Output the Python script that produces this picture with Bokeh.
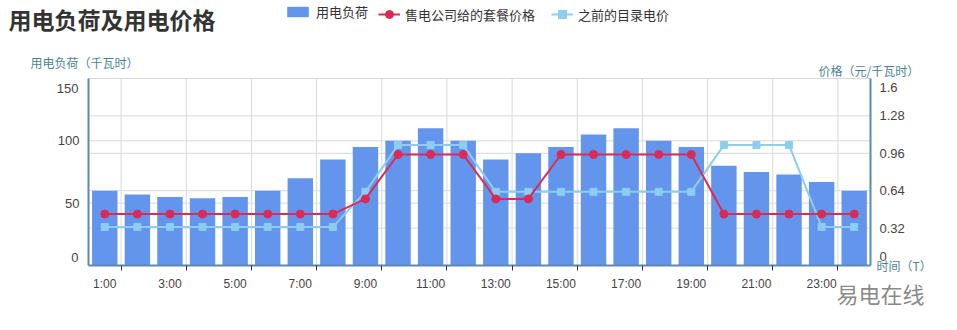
from bokeh.plotting import figure
from bokeh.models import (Range1d, LinearAxis, FixedTicker, Label, Legend, LegendItem,
                          CustomJSTickFormatter, NumeralTickFormatter, ColumnDataSource)
from bokeh.embed import file_html
from bokeh.resources import INLINE

# ---- data -------------------------------------------------------------
hours = ["1:00", "2:00", "3:00", "4:00", "5:00", "6:00", "7:00", "8:00",
         "9:00", "10:00", "11:00", "12:00", "13:00", "14:00", "15:00", "16:00",
         "17:00", "18:00", "19:00", "20:00", "21:00", "22:00", "23:00", "24:00"]

# hourly load, kWh
load_kwh = [60, 57, 55, 54, 55, 60, 70, 85, 95, 100, 110, 100,
            85, 90, 95, 105, 110, 100, 95, 80, 75, 73, 67, 60]

# package price offered by the retailer, yuan/kWh
package_price = [0.44, 0.44, 0.44, 0.44, 0.44, 0.44, 0.44, 0.44,
                 0.57, 0.95, 0.95, 0.95, 0.57, 0.57, 0.95, 0.95,
                 0.95, 0.95, 0.95, 0.44, 0.44, 0.44, 0.44, 0.44]

# former catalogue tariff, yuan/kWh
catalog_price = [0.33, 0.33, 0.33, 0.33, 0.33, 0.33, 0.33, 0.33,
                 0.63, 1.03, 1.03, 1.03, 0.63, 0.63, 0.63, 0.63,
                 0.63, 0.63, 0.63, 1.03, 1.03, 1.03, 0.33, 0.33]

load_ticks = [0, 50, 100, 150]
price_ticks = [0, 0.32, 0.64, 0.96, 1.28, 1.6]

# ---- page geometry (pixels) ------------------------------------------------
W, H = 957, 330
PLOT_L, PLOT_R, PLOT_T, PLOT_B = 88, 870, 78, 265

# ---- styling ------------------------------------------------------------
CJK = "Noto Sans CJK SC"
NUM = "Liberation Sans"
AXIS = "#5b89b4"
GRID = "#d9d9d9"
NAME = "#4b8595"
BAR = "#6495ed"
RED = "#d92b55"
SKY = "#8ccdf0"
TXT = "#444444"

n = len(hours)
xs = [i + 0.5 for i in range(n)]
src = ColumnDataSource(dict(x=xs, hour=hours, load=load_kwh,
                            pkg=package_price, cat=catalog_price))


def padded_range(lo, hi, lo_px, hi_px, span_px):
    """Range whose [lo, hi] part occupies span_px pixels, leaving lo_px/hi_px
    pixels of room on either side for titles and axes."""
    per_px = (hi - lo) / span_px
    return Range1d(lo - lo_px * per_px, hi + hi_px * per_px)


x_rng = padded_range(0, n, PLOT_L, W - PLOT_R, PLOT_R - PLOT_L)
y_rng = padded_range(load_ticks[0], load_ticks[-1], H - PLOT_B, PLOT_T, PLOT_B - PLOT_T)
p_rng = padded_range(price_ticks[0], price_ticks[-1], H - PLOT_B, PLOT_T, PLOT_B - PLOT_T)

p = figure(width=W, height=H, output_backend="svg", toolbar_location=None,
           title=None, x_range=x_rng, y_range=y_rng,
           min_border_left=0, min_border_right=0, min_border_top=0,
           min_border_bottom=0)
p.extra_y_ranges = {"price": p_rng}
p.outline_line_color = None
p.background_fill_color = "white"
p.border_fill_color = "white"
p.xgrid.visible = False
p.ygrid.visible = False

# ---- grid lines -----------------------------------------------------------
bounds = [i for i in range(1, n, 2)]
p.segment(x0=bounds, x1=bounds, y0=[load_ticks[0]] * len(bounds),
          y1=[load_ticks[-1]] * len(bounds), line_color=GRID, line_width=1)
p.segment(x0=[0] * 3, x1=[n] * 3, y0=load_ticks[1:], y1=load_ticks[1:],
          line_color=GRID, line_width=1)
p.segment(x0=[0] * 5, x1=[n] * 5, y0=price_ticks[1:], y1=price_ticks[1:],
          y_range_name="price", line_color=GRID, line_width=1)

# ---- axes -------------------------------------------------------------------
def style_axis(ax, size):
    ax.axis_line_color = AXIS
    ax.axis_line_width = 2
    ax.major_tick_out = 0
    ax.major_tick_in = 0
    ax.minor_tick_out = 0
    ax.minor_tick_in = 0
    ax.major_label_text_font = NUM
    ax.major_label_text_font_size = size
    ax.major_label_text_color = TXT


# x axis: labels centred on categories, tick marks on boundaries
xa = p.xaxis[0]
style_axis(xa, "12px")
xa.fixed_location = load_ticks[0]
xa.bounds = (0, n)
xa.ticker = FixedTicker(ticks=[xs[i] for i in range(0, n, 2)], minor_ticks=bounds)
xa.formatter = CustomJSTickFormatter(args=dict(labels=hours),
                                     code="return labels[Math.floor(tick)];")
xa.minor_tick_out = 5
xa.minor_tick_line_color = "#333333"
xa.major_label_standoff = 6

# left axis (load)
ya = p.yaxis[0]
style_axis(ya, "13px")
ya.fixed_location = 0
ya.bounds = (load_ticks[0], load_ticks[-1])
ya.ticker = FixedTicker(ticks=load_ticks[1:-1])
ya.major_label_standoff = 9

# right axis (price)
ra = LinearAxis(y_range_name="price", ticker=FixedTicker(ticks=price_ticks[1:-1]),
                formatter=NumeralTickFormatter(format="0.00"))
style_axis(ra, "13px")
ra.fixed_location = n
ra.bounds = (price_ticks[0], price_ticks[-1])
ra.major_label_standoff = 9
p.add_layout(ra, "right")

# end labels of both value axes sit just inside the plot edges
end_style = dict(text_font=NUM, text_font_size="13px", text_color=TXT,
                 text_baseline="middle", x_units="screen")
p.add_layout(Label(x=PLOT_L - 10, y=load_ticks[-1], y_offset=-10,
                   text=str(load_ticks[-1]), text_align="right", **end_style))
p.add_layout(Label(x=PLOT_L - 10, y=load_ticks[0], y_offset=8,
                   text=str(load_ticks[0]), text_align="right", **end_style))
p.add_layout(Label(x=PLOT_R + 9, y=price_ticks[-1], y_range_name="price", y_offset=-9,
                   text="1.6", text_align="left", **end_style))
p.add_layout(Label(x=PLOT_R + 9, y=price_ticks[0], y_range_name="price", y_offset=9,
                   text="0", text_align="left", **end_style))

# ---- marks --------------------------------------------------------------
bars = p.vbar(x="x", top="load", width=0.78, bottom=0, source=src,
              fill_color=BAR, line_color=None)

cat_line = p.line("x", "cat", source=src, y_range_name="price",
                  line_color=SKY, line_width=2)
cat_pts = p.scatter("x", "cat", source=src, y_range_name="price", marker="square",
                    size=7, fill_color=SKY, line_color=SKY)

pkg_line = p.line("x", "pkg", source=src, y_range_name="price",
                  line_color=RED, line_width=2)
pkg_pts = p.scatter("x", "pkg", source=src, y_range_name="price", marker="circle",
                    size=8, fill_color=RED, line_color=RED)

# ---- legends ------------------------------------------------------------
leg_common = dict(orientation="horizontal", padding=0, margin=0,
                  border_line_color=None, background_fill_alpha=0,
                  label_text_font=CJK, label_text_font_size="13px",
                  label_text_color="#333333", label_standoff=5)
leg_bar = Legend(items=[LegendItem(label="用电负荷", renderers=[bars])],
                 location=(284, H - 21), glyph_width=27, glyph_height=13,
                 label_height=13, **leg_common)
leg_lines = Legend(items=[LegendItem(label="售电公司给的套餐价格", renderers=[pkg_line, pkg_pts]),
                          LegendItem(label="之前的目录电价", renderers=[cat_line, cat_pts])],
                   location=(378, H - 24), glyph_width=22, glyph_height=20,
                   label_height=20, spacing=16, **leg_common)
p.add_layout(leg_bar)
p.add_layout(leg_lines)


# ---- titles and axis names (positions measured from the top-left) -----------
def page_text(x, y_top, text, size, color, bold=False):
    p.add_layout(Label(x=x, y=H - y_top, x_units="screen", y_units="screen",
                       text=text, text_font=CJK, text_font_size=size,
                       text_font_style="bold" if bold else "normal",
                       text_color=color, text_baseline="middle"))


page_text(8, 18, "用电负荷及用电价格", "23px", "#333333", bold=True)
page_text(30, 62, "用电负荷（千瓦时）", "12px", NAME)
page_text(818, 70, "价格（元/千瓦时）", "12px", NAME)
page_text(876, 265, "时间（T）", "12px", NAME)
page_text(836, 292, "易电在线", "22px", "#8a8a8a")

open("out.html", "w").write(file_html(p, INLINE))
